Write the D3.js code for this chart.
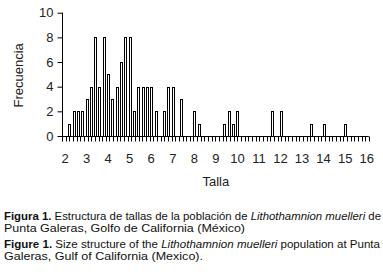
<!DOCTYPE html>
<html>
<head>
<meta charset="utf-8">
<script src="https://cdn.jsdelivr.net/npm/d3@7"></script>
<style>
  body { margin: 0; background: #fff; }
  svg { font-family: "Liberation Sans", Arial, sans-serif; }
</style>
</head>
<body>
<div id="chart"></div>
<script>
const width = 383, height = 275;

// size classes (talla) and their counts (frecuencia)
const tallas = [2.2, 2.4, 2.6, 2.8, 3.0, 3.2, 3.4, 3.6, 3.8, 4.0, 4.2, 4.4, 4.6, 4.8, 5.0,
    5.2, 5.4, 5.6, 5.8, 6.0, 6.2, 6.6, 6.8, 7.0, 7.4, 8.0, 8.2, 9.4, 9.6, 9.8, 10.0,
    11.6, 12.0, 13.4, 14.0, 15.0];
const frecuencias = [1, 2, 2, 2, 3, 4, 8, 4, 8, 5, 3, 4, 6, 8, 8,
    2, 4, 4, 4, 4, 2, 2, 4, 4, 3, 2, 1, 1, 2, 1, 2,
    2, 2, 1, 1, 1];
const xTickLabels = [2, 3, 4, 5, 6, 7, 8, 9, 10, 11, 12, 13, 14, 15, 16];
const yTickLabels = [0, 2, 4, 6, 8, 10];
const minorTickCount = 84;

const captionEs = ["Estructura de tallas de la población de ", "Lithothamnion muelleri", " de",
    "Punta Galeras, Golfo de California (México)"];
const captionEn = ["Size structure of the ", "Lithothamnion muelleri", " population at Punta",
    "Galeras, Gulf of California (Mexico)."];

const svg = d3.select("#chart").append("svg")
    .attr("width", width)
    .attr("height", height);

const x = d3.scaleLinear()
    .domain([2, 16])
    .range([65, 366.7]);

const y = d3.scaleLinear()
    .domain([0, 10])
    .range([136, 12.7]);

const axisLeft = x(1.86), axisRight = x(16.1);

// bars
svg.append("g")
    .selectAll("rect")
    .data(tallas)
    .enter().append("rect")
    .attr("x", d => Math.round(x(d) - 1) + 0.5)
    .attr("y", (d, i) => Math.round(y(frecuencias[i])) + 0.5)
    .attr("width", 2)
    .attr("height", (d, i) => Math.round(y(0)) - Math.round(y(frecuencias[i])))
    .attr("fill", "#fff")
    .attr("stroke", "#000")
    .attr("stroke-width", 1)
    .attr("shape-rendering", "crispEdges");

// y axis
const yAxis = d3.axisLeft(y)
    .tickValues(yTickLabels)
    .tickSize(5)
    .tickPadding(4);

const gy = svg.append("g")
    .attr("transform", `translate(${Math.round(axisLeft) + 0.5},0)`)
    .call(yAxis);
gy.select(".domain").attr("d", `M0,${y(10)}V${y(0)}`);
gy.selectAll("text")
    .style("font-size", "13px")
    .style("font-family", "Liberation Sans, Arial, sans-serif")
    .attr("fill", "#222");

// x axis: minor ticks across the whole line, labels at integer tallas
const minorScale = d3.scaleLinear()
    .domain([0, minorTickCount])
    .range([axisLeft, axisRight]);

const gx = svg.append("g")
    .attr("transform", `translate(0,${Math.round(y(0)) + 0.5})`);

gx.append("line")
    .attr("x1", axisLeft)
    .attr("x2", axisRight)
    .attr("stroke", "#000");

gx.selectAll(".minor")
    .data(d3.range(minorTickCount + 1))
    .enter().append("line")
    .attr("class", "minor")
    .attr("x1", d => Math.round(minorScale(d)) + 0.5)
    .attr("x2", d => Math.round(minorScale(d)) + 0.5)
    .attr("y1", 0)
    .attr("y2", 5)
    .attr("stroke", "#000");

gx.selectAll(".xlabel")
    .data(xTickLabels)
    .enter().append("text")
    .attr("class", "xlabel")
    .attr("x", d => x(d))
    .attr("y", 26)
    .attr("text-anchor", "middle")
    .attr("fill", "#222")
    .style("font-size", "13px")
    .text(d => d);

// axis titles
svg.append("text")
    .attr("x", x(9))
    .attr("y", 186)
    .attr("text-anchor", "middle")
    .attr("fill", "#222")
    .style("font-size", "13px")
    .text("Talla");

svg.append("text")
    .attr("transform", `translate(23,${y(5) + 1}) rotate(-90)`)
    .attr("text-anchor", "middle")
    .attr("fill", "#222")
    .style("font-size", "13px")
    .text("Frecuencia");

// caption
function captionLine(yPos, parts, bold, len) {
    const t = svg.append("text")
        .attr("x", 4)
        .attr("y", yPos)
        .attr("fill", "#111")
        .attr("textLength", len)
        .attr("lengthAdjust", "spacingAndGlyphs")
        .style("font-size", "11px");
    if (bold) t.append("tspan").attr("font-weight", "bold").text(bold + " ");
    parts.forEach((p, i) => {
        t.append("tspan")
            .attr("font-style", i === 1 ? "italic" : "normal")
            .text(p);
    });
}

captionLine(220, captionEs.slice(0, 3), "Figura 1.", 377);
captionLine(232, [captionEs[3]], null, 241);
captionLine(248, captionEn.slice(0, 3), "Figure 1.", 376);
captionLine(260, [captionEn[3]], null, 199);
</script>
</body>
</html>
